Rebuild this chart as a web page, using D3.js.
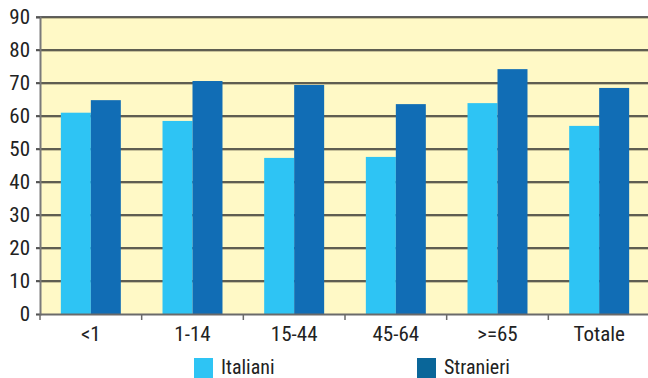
<!DOCTYPE html>
<html>
<head>
<meta charset="utf-8">
<script src="https://cdn.jsdelivr.net/npm/d3@7"></script>
<style>
  body { margin: 0; background: #fff; }
  text { font-family: "Liberation Sans Narrow", "Roboto Condensed", "Liberation Sans", sans-serif; fill: #222; }
</style>
</head>
<body>
<svg id="chart"></svg>
<script>
const categories = ['<1', '1-14', '15-44', '45-64', '>=65', 'Totale'];
const italiani = [61, 58.5, 47.3, 47.6, 63.9, 57.0];
const stranieri = [64.8, 70.6, 69.4, 63.6, 74.2, 68.5];
const yTicks = [0, 10, 20, 30, 40, 50, 60, 70, 80, 90];
const seriesNames = ['Italiani', 'Stranieri'];

const svgWidth = 648, svgHeight = 378;
const margin = { top: 17, bottom: 64, left: 40, right: -2 };
const width = svgWidth - margin.left - margin.right;
const height = svgHeight - margin.top - margin.bottom;

const svg = d3.select('#chart')
  .attr('width', svgWidth)
  .attr('height', svgHeight);

const g = svg.append('g')
  .attr('transform', 'translate(' + margin.left + ',' + margin.top + ')');

const x = d3.scaleBand().domain(categories).range([0, width]).padding(0);
const sub = d3.scaleBand().domain(seriesNames).range([0, x.bandwidth()]).paddingInner(0).paddingOuter(0.695);
const y = d3.scaleLinear().domain([0, 90]).range([height, 0]);
const colors = { Italiani: '#2ec4f4', Stranieri: '#116db5' };

// plot background
g.append('rect')
  .attr('x', 0).attr('y', y(90))
  .attr('width', width).attr('height', y(0) - y(90))
  .attr('fill', '#fff9c6');

// gridlines with a soft shadow
yTicks.filter(d => d > 0).forEach(t => {
  g.append('line')
    .attr('x1', 0).attr('x2', width)
    .attr('y1', y(t) + 1.5).attr('y2', y(t) + 1.5)
    .attr('stroke', '#c8c29a').attr('stroke-width', 1);
  g.append('line')
    .attr('x1', -4).attr('x2', width)
    .attr('y1', y(t)).attr('y2', y(t))
    .attr('stroke', '#2a2a2a').attr('stroke-width', 1.5);
});

// bars
const groups = g.selectAll('.grp')
  .data(categories)
  .enter().append('g')
  .attr('transform', d => 'translate(' + x(d) + ',0)');

groups.selectAll('rect')
  .data((d, i) => [
    { key: 'Italiani', value: italiani[i] },
    { key: 'Stranieri', value: stranieri[i] }
  ])
  .enter().append('rect')
  .attr('x', d => sub(d.key))
  .attr('y', d => y(d.value))
  .attr('width', sub.bandwidth())
  .attr('height', d => y(0) - y(d.value))
  .attr('fill', d => colors[d.key]);

// y axis
const yAxis = d3.axisLeft(y).tickValues(yTicks).tickSize(4).tickPadding(6);
const gY = g.append('g').call(yAxis);
gY.select('.domain').attr('stroke', '#7a7a7a').attr('stroke-width', 2);
gY.selectAll('.tick line').attr('stroke', '#555').attr('stroke-width', 1.5);
gY.selectAll('.tick text')
  .style('font-size', '21px')
  .attr('fill', '#222');

// x axis
const xAxis = d3.axisBottom(x).tickSize(0).tickPadding(12);
const gX = g.append('g')
  .attr('transform', 'translate(0,' + height + ')')
  .call(xAxis);
gX.select('.domain').attr('stroke', '#6a6a6a').attr('stroke-width', 2);
gX.selectAll('.tick text').style('font-size', '21px').attr('fill', '#222');

// tick marks between categories
gX.selectAll('.sep')
  .data(categories)
  .enter().append('line')
  .attr('x1', d => x(d)).attr('x2', d => x(d))
  .attr('y1', 0).attr('y2', 6)
  .attr('stroke', '#6a6a6a').attr('stroke-width', 1.5);

// legend
const legendX = [194, 417];
const legendColors = ['#2ec4f4', '#0a6699'];
const legend = svg.selectAll('.leg')
  .data(seriesNames)
  .enter().append('g')
  .attr('transform', (d, i) => 'translate(' + legendX[i] + ',358)');
legend.append('rect')
  .attr('width', 19).attr('height', 20)
  .attr('fill', (d, i) => legendColors[i]);
legend.append('text')
  .attr('x', 27).attr('y', 16)
  .style('font-size', '20px')
  .text(d => d);
</script>
</body>
</html>
